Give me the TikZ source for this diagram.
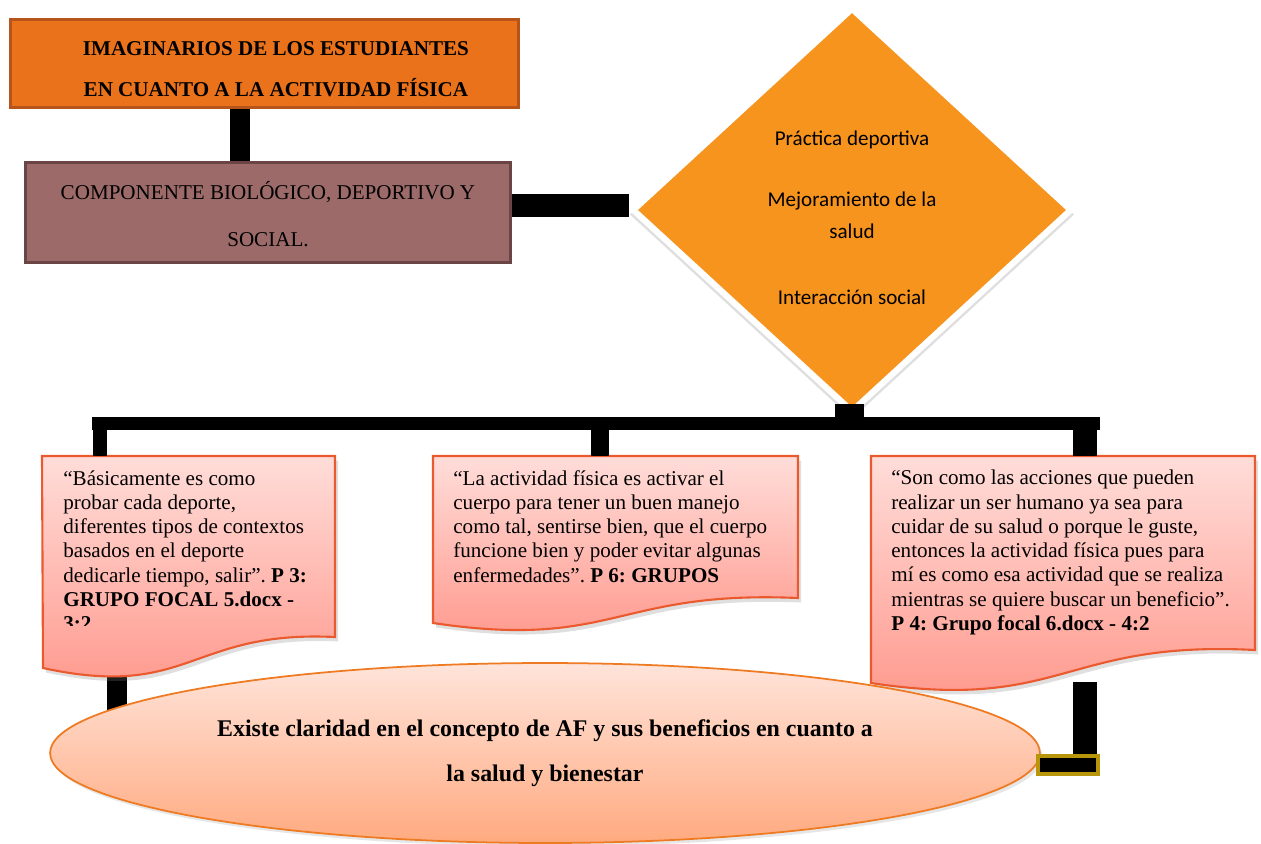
\documentclass[tikz,border=0pt]{standalone}
\usepackage{fontspec}
\setmainfont{Liberation Serif}
\newfontfamily\calfont{Carlito}
\usetikzlibrary{shapes.geometric, shadows, positioning}
\frenchspacing

\definecolor{titlefill}{HTML}{E9721B}
\definecolor{titleline}{HTML}{B6541A}
\definecolor{compfill}{HTML}{9B6A69}
\definecolor{compline}{HTML}{6B4545}
\definecolor{diafill}{HTML}{F7941E}
\definecolor{doctop}{HTML}{FFDDD9}
\definecolor{docbot}{HTML}{FF968A}
\definecolor{docline}{HTML}{EB5A2E}
\definecolor{elltop}{HTML}{FFE4DA}
\definecolor{ellbot}{HTML}{FFAA80}
\definecolor{ellline}{HTML}{EE7A22}
\definecolor{goldline}{HTML}{B8960C}

\begin{document}
\begin{tikzpicture}[
	x=0.02cm, y=-0.02cm,
	box/.style = {draw, line width=1.5pt, align=center, inner sep=0pt},
	link/.style = {line width=#1, black},
	doc/.style = {draw=docline, line width=1.2pt, top color=doctop, bottom color=docbot,
		drop shadow={opacity=.25, shadow xshift=.6mm, shadow yshift=-.9mm}},
	quote/.style = {anchor=north west, align=left, inner sep=0pt,
		font=\fontsize{12}{13.8}\selectfont},
	sc1/.style = {xshift=-4.9mm},
	sc2/.style = {yshift=1.5mm}
	]
	\useasboundingbox (0,0) rectangle (1261,843);
%
	\node[fill=titlefill, draw=titleline, minimum width=10.16cm, minimum height=1.76cm,
		font=\bfseries\fontsize{12}{23.2}\selectfont] (title) [box] at (264.5,63.5)
		{\rule{0pt}{14pt}\hspace*{13pt}IMAGINARIOS DE LOS ESTUDIANTES\\\hspace*{13pt}EN CUANTO A LA ACTIVIDAD FÍSICA};
	\node[fill=compfill, draw=compline, minimum width=9.7cm, minimum height=2cm,
		font=\fontsize{12}{27.2}\selectfont] (comp) [box] at (268,212.5)
		{\rule{0pt}{12pt}COMPONENTE BIOLÓGICO, DEPORTIVO Y\\SOCIAL.};
%
	\coordinate (t1) at ([sc1] title.south);
	\draw[link=0.4cm] (t1) -- (t1 |- comp.north);
%
	\node[diamond, fill=diafill, draw=white, line width=3.5pt, minimum width=8.8cm,
		minimum height=8.1cm, inner sep=0pt, align=center,
		font=\calfont\fontsize{12}{18.1}\selectfont,
		drop shadow={opacity=.25, shadow scale=1.015, shadow xshift=0mm, shadow yshift=-.9mm}] (dia) at (852,210)
		{\rule{0pt}{17pt}Práctica deportiva\\[17pt]Mejoramiento de la\\salud\\[19.5pt]Interacción social};
	\coordinate (c2) at ([sc2] comp.east);
	\draw[link=0.46cm] (c2) -- (c2 -| dia.west);
%
	\node[fill=black, minimum width=0.58cm, minimum height=0.26cm, inner sep=0pt] (joint) at (849.5,410.5) {};
	\coordinate (hl) at (92,423.5);
	\coordinate (hr) at (1100,423.5);
	\draw[link=0.26cm] (hl) -- (hr);
%
	\coordinate (d1) at (100,430);
	\coordinate (d2) at (600,430);
	\coordinate (d3) at (1085,430);
	\coordinate (l1) at (117,676);
	\coordinate (l2) at (117,712);
	\coordinate (r1) at (1085,682);
%
	\draw[link=0.48cm] (r1) -- (1085,760);
	\draw[link=0.4cm] (l1) -- (l2);
%
	\draw[doc] (42,456) coordinate (f1) -- (335,456) -- (335,637)
		.. controls (190,630) and (190,700) .. (43,668) -- cycle;
	\draw[doc] (433,456) coordinate (f2) -- (798,456) -- (798,598)
		.. controls (615,590) and (615,650) .. (433,623) -- cycle;
	\draw[doc] (871,456) coordinate (f3) -- (1255,456) -- (1255,650)
		.. controls (1063,640) and (1063,712) .. (871,683) -- cycle;
	\draw[link=0.28cm] (d1) -- (d1 |- f1);
	\draw[link=0.36cm] (d2) -- (d2 |- f2);
	\draw[link=0.48cm] (d3) -- (d3 |- f3);
%
	\begin{scope}
		\clip (42,456) rectangle (335,625);
		\node[quote] (q1) at (63,470) {“Básicamente es como\\probar cada deporte,\\diferentes tipos de contextos\\basados en el deporte\\dedicarle tiempo, salir”. \textbf{P 3:}\\\textbf{GRUPO FOCAL 5.docx -}\\\textbf{3:2}};
	\end{scope}
	\node[quote] (q2) at (453,470) {“La actividad física es activar el\\cuerpo para tener un buen manejo\\como tal, sentirse bien, que el cuerpo\\funcione bien y poder evitar algunas\\enfermedades”. \textbf{P 6: GRUPOS}};
	\node[quote] (q3) at (891,470) {“Son como las acciones que pueden\\realizar un ser humano ya sea para\\cuidar de su salud o porque le guste,\\entonces la actividad física pues para\\mí es como esa actividad que se realiza\\mientras se quiere buscar un beneficio”.\\\textbf{P 4: Grupo focal 6.docx - 4:2}};
%
	\node[ellipse, draw=ellline, line width=1pt, top color=elltop, bottom color=ellbot,
		minimum width=19.8cm, minimum height=3.6cm, inner sep=0pt, align=center,
		font=\bfseries\fontsize{13.6}{26}\selectfont,
		drop shadow={opacity=.2, shadow xshift=.5mm, shadow yshift=-.7mm}] (ell) at (545,753)
		{Existe claridad en el concepto de AF y sus beneficios en cuanto a\\la salud y bienestar};
	\node[fill=black, draw=goldline, line width=2pt, minimum width=1.2cm, minimum height=0.36cm,
		inner sep=0pt] (gold) at (1068,765) {};
\end{tikzpicture}
\end{document}
